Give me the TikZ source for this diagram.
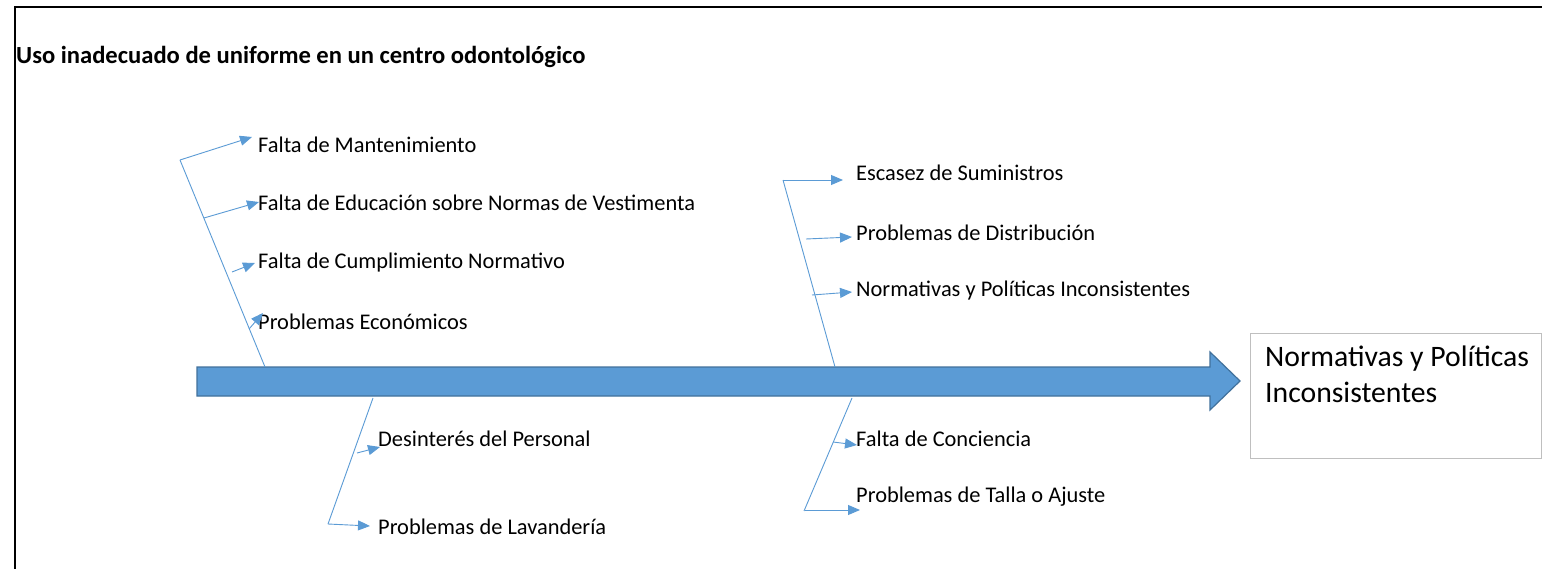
\documentclass[tikz,border=0pt]{standalone}
\usepackage{fontspec}
\setmainfont{Carlito}
\usetikzlibrary{arrows.meta}
\definecolor{bone}{HTML}{5B9BD5}
\definecolor{arrowedge}{HTML}{41719C}
\definecolor{boxedge}{HTML}{BFBFBF}
\begin{document}
\begin{tikzpicture}[x=1pt,y=-1pt,
  lbl/.style={anchor=west,inner sep=0pt,font=\fontsize{22.4}{26}\selectfont},
  bonel/.style={draw=bone,line width=0.9pt},
  branch/.style={bonel,-{Triangle[length=12pt,width=10pt]}}]
\useasboundingbox (0,0) rectangle (1546,569);
\fill[white] (0,0) rectangle (1546,569);
\draw[line width=2pt] (15,569) -- (15,7) -- (1542,7);
\node[anchor=west,inner sep=0pt,font=\bfseries\fontsize{24.6}{29}\selectfont] (title) at (16,57) {Uso inadecuado de uniforme en un centro odontológico};
% spine
\draw[fill=bone,draw=arrowedge,line width=1.2pt] (197,367) -- (1210,367) -- (1210,352) -- (1240,381) -- (1210,410) -- (1210,396) -- (197,396) -- cycle;
% effect box
\node[draw=boxedge,line width=1pt,anchor=north west,minimum width=291pt,minimum height=125pt,inner sep=0pt] (effect) at (1250,333) {};
\node[anchor=north west,inner sep=0pt,align=left,font=\fontsize{29.7}{36}\selectfont] (efftext) at (1265,346) {Normativas y Políticas\\Inconsistentes};
% upper left bone
\coordinate (ul0) at (180,160);
\coordinate (ul1) at (265,367);
\draw[bonel] (ul0) -- (ul1);
\node[lbl] (t1) at (258,145) {Falta de Mantenimiento};
\node[lbl] (t2) at (258,203) {Falta de Educación sobre Normas de Vestimenta};
\node[lbl] (t3) at (258,263) {Falta de Cumplimiento Normativo};
\node[lbl] (t4) at (258,322) {Problemas Económicos};
\coordinate (a1) at (252,137);
\coordinate (b2) at (204,218);
\coordinate (a2) at (259,202);
\coordinate (b3) at (232,272);
\coordinate (a3) at (255,263);
\coordinate (b4) at (249,329);
\coordinate (a4) at (263,313);
\draw[branch] (ul0) -- (a1);
\draw[branch] (b2) -- (a2);
\draw[branch] (b3) -- (a3);
\draw[branch] (b4) -- (a4);
% upper right bone
\coordinate (ur0) at (783,180);
\coordinate (ur1) at (835,367);
\draw[bonel] (ur0) -- (ur1);
\node[lbl] (t5) at (856,173) {Escasez de Suministros};
\node[lbl] (t6) at (856,233) {Problemas de Distribución};
\node[lbl] (t7) at (856,291) {Normativas y Políticas Inconsistentes};
\coordinate (a5) at (843,180);
\coordinate (b6) at (806,239);
\coordinate (a6) at (852,237);
\coordinate (b7) at (812,295);
\coordinate (a7) at (852,292);
\draw[branch] (ur0) -- (a5);
\draw[branch] (b6) -- (a6);
\draw[branch] (b7) -- (a7);
% lower left bone
\coordinate (ll0) at (373,398);
\coordinate (ll1) at (328,524);
\draw[bonel] (ll0) -- (ll1);
\node[lbl] (t8) at (378,439) {Desinterés del Personal};
\node[lbl] (t9) at (378,527) {Problemas de Lavandería};
\coordinate (b8) at (357,453);
\coordinate (a8) at (380,447);
\coordinate (a9) at (370,526);
\draw[branch] (b8) -- (a8);
\draw[branch] (ll1) -- (a9);
% lower right bone
\coordinate (lr0) at (852,398);
\coordinate (lr1) at (804,511);
\draw[bonel] (lr0) -- (lr1);
\node[lbl] (t10) at (856,439) {Falta de Conciencia};
\node[lbl] (t11) at (856,497) {Problemas de Talla o Ajuste};
\coordinate (b10) at (833,442);
\coordinate (a10) at (857,445);
\coordinate (b11) at (805,510);
\coordinate (a11) at (860,510);
\draw[branch] (b10) -- (a10);
\draw[branch] (b11) -- (a11);
\end{tikzpicture}
\end{document}
